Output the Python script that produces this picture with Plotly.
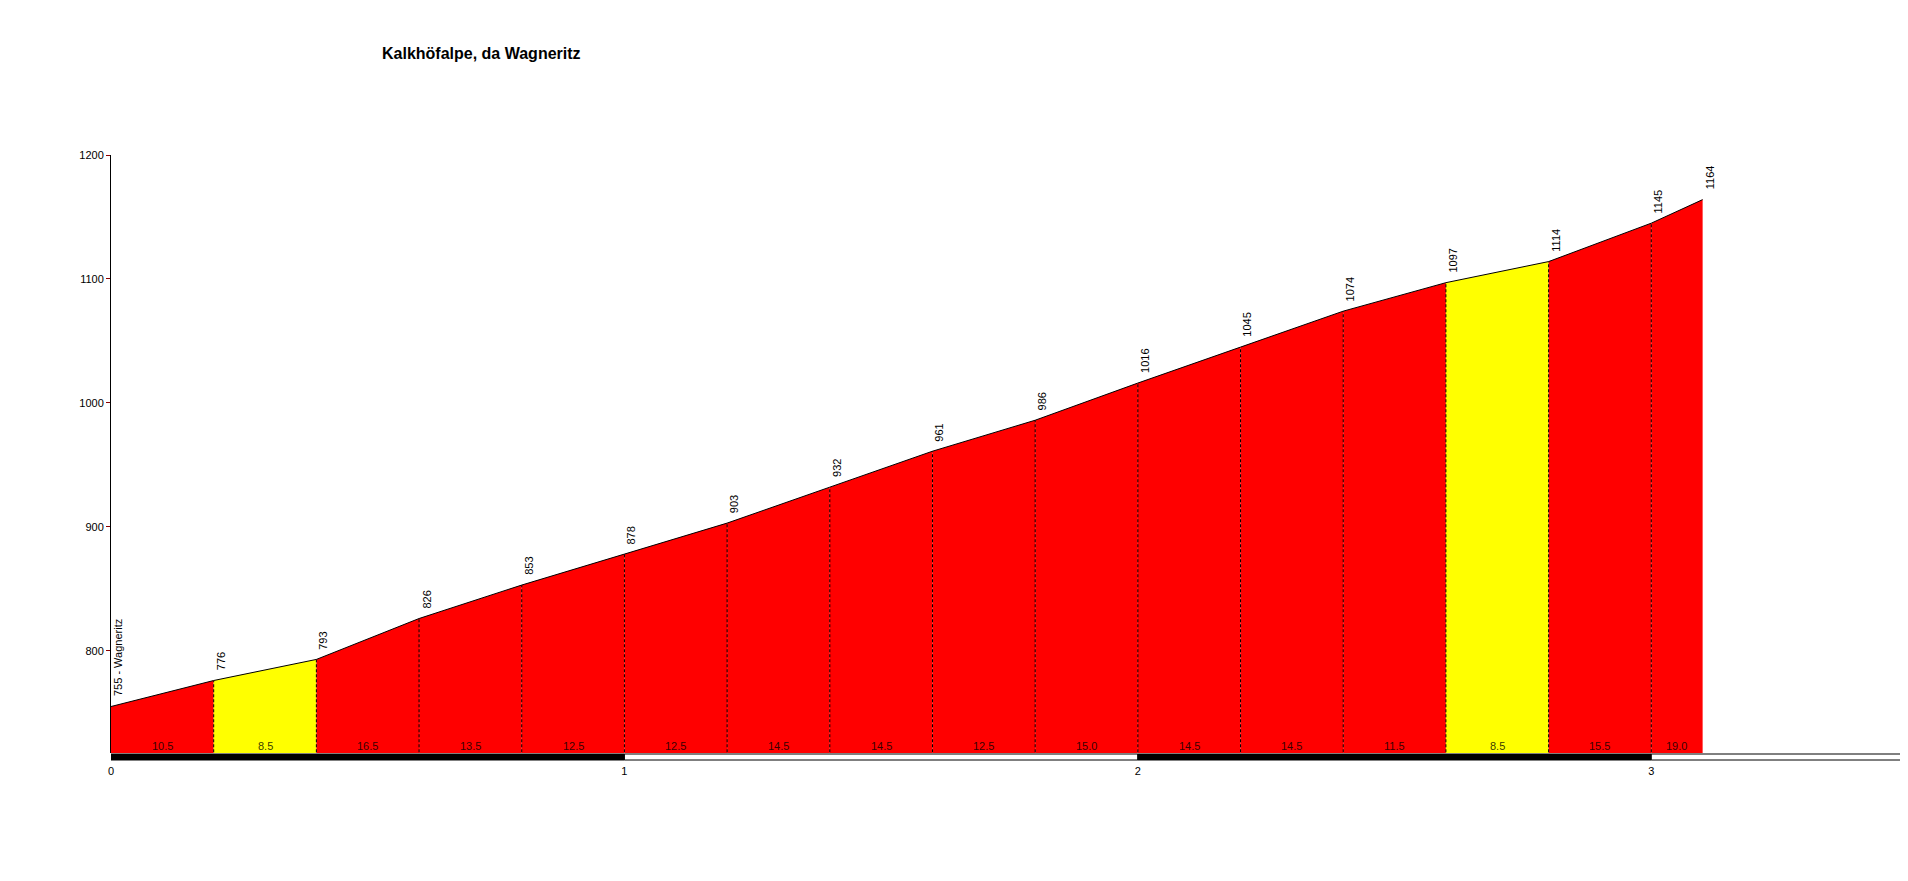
import plotly.graph_objects as go

TITLE = "Kalkhöfalpe, da Wagneritz"
START_NAME = "Wagneritz"
DIST_KM = [0.0, 0.2, 0.4, 0.6, 0.8, 1.0, 1.2, 1.4, 1.6, 1.8, 2.0, 2.2, 2.4, 2.6, 2.8, 3.0, 3.1]
ELEV_M = [755, 776, 793, 826, 853, 878, 903, 932, 961, 986, 1016, 1045, 1074, 1097, 1114, 1145, 1164]
GRADE_PCT = [10.5, 8.5, 16.5, 13.5, 12.5, 12.5, 14.5, 14.5, 12.5, 15.0, 14.5, 14.5, 11.5, 8.5, 15.5, 19.0]
Y_TICKS = [800, 900, 1000, 1100, 1200]
X_TICKS = [0, 1, 2, 3]

Y_MIN, Y_MAX = 717.5, 1200
X_MIN, X_MAX = 0, 3.5
FONT = "Liberation Sans, Arial, sans-serif"

# page body has an 8px margin in the browser; compensate
PAGE_PAD = 8
W, H = 1908 - PAGE_PAD, 881 - PAGE_PAD


def grade_color(g):
    return "#FFFF00" if g < 9 else "#FF0000"


fig = go.Figure()

# filled segments
for i, g in enumerate(GRADE_PCT):
    fig.add_trace(go.Scatter(
        x=[DIST_KM[i], DIST_KM[i + 1]], y=[ELEV_M[i], ELEV_M[i + 1]],
        mode="lines", fill="tozeroy", fillcolor=grade_color(g),
        line=dict(color="black", width=1), hoverinfo="skip", showlegend=False))

# dashed separators
for d, e in zip(DIST_KM[1:-1], ELEV_M[1:-1]):
    fig.add_trace(go.Scatter(
        x=[d, d], y=[0, e], mode="lines",
        line=dict(color="black", width=1, dash="3px,2px"),
        hoverinfo="skip", showlegend=False))

# elevation labels
for i, (d, e) in enumerate(zip(DIST_KM, ELEV_M)):
    txt = f"{e} - {START_NAME}" if i == 0 else str(e)
    fig.add_annotation(x=d, y=e, text=txt, textangle=-90, showarrow=False,
                       xanchor="center", yanchor="bottom", xshift=7, yshift=8,
                       font=dict(family=FONT, size=11, color="black"))

# grade labels
for i, g in enumerate(GRADE_PCT):
    fig.add_annotation(x=(DIST_KM[i] + DIST_KM[i + 1]) / 2, y=Y_MIN, text=f"{g:.1f}",
                       showarrow=False, xanchor="center", yanchor="bottom", yshift=-1,
                       font=dict(family=FONT, size=11, color="rgba(0,0,0,0.8)"))

# km bar
bounds = X_TICKS + [X_MAX]
for k in range(len(bounds) - 1):
    fill = "black" if k % 2 == 0 else "white"
    fig.add_shape(type="rect", xref="x", yref="paper", ysizemode="pixel", yanchor=0,
                  x0=bounds[k], x1=bounds[k + 1], y0=-1, y1=-7,
                  fillcolor=fill, line=dict(color="black", width=1))

fig.update_layout(
    width=W, height=H,
    margin=dict(l=111 - PAGE_PAD, r=0, t=155 - PAGE_PAD, b=128),
    paper_bgcolor="white", plot_bgcolor="white",
    title=dict(text=f"<b>{TITLE}</b>", xref="container", yref="container",
               x=(382 - PAGE_PAD) / W, xanchor="left", y=1 - (53 - PAGE_PAD) / H, yanchor="middle",
               font=dict(family=FONT, size=16, color="black")),
    font=dict(family=FONT, size=11, color="black"),
    xaxis=dict(range=[X_MIN, X_MAX], tickvals=X_TICKS, ticktext=[str(t) for t in X_TICKS],
               showgrid=False, zeroline=False, showline=False, ticks="",
               ticklabelstandoff=10, tickfont=dict(family=FONT, size=11, color="black")),
    yaxis=dict(range=[Y_MIN, Y_MAX], tickvals=Y_TICKS, showgrid=False, zeroline=False,
               showline=True, linecolor="black", linewidth=1, ticks="outside",
               ticklen=4, tickcolor="#8B0000", tickfont=dict(family=FONT, size=11, color="black")),
)

fig.write_html("out.html")
